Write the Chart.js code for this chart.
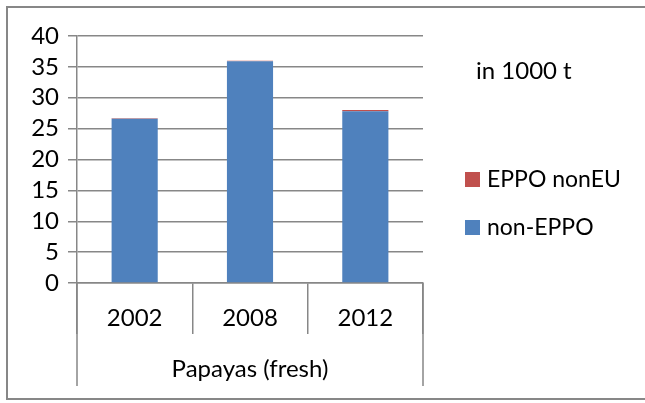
<!DOCTYPE html>
<html>
<head>
<meta charset="utf-8">
<script src="https://cdn.jsdelivr.net/npm/chart.js@4/dist/chart.umd.min.js"></script>
<style>
  html, body { margin: 0; padding: 0; background: #fff; }
  #wrap { width: 645px; height: 403px; }
</style>
</head>
<body>
<div id="wrap"><canvas id="papayaChart" width="645" height="403"></canvas></div>
<script>
// data (1000 t)
const years = ['2002', '2008', '2012'];
const groupLabel = 'Papayas (fresh)';
const nonEppo = [26.6, 35.9, 27.8];
const eppoNonEU = [0.1, 0.1, 0.2];
const unitText = 'in 1000 t';

const FONT = 'Lato, "Open Sans", sans-serif';
const GRID = '#878787';

// extra drawing: frame, group row, unit text, legend
const extras = {
  id: 'extras',
  afterDraw(chart) {
    const ctx = chart.ctx;
    const area = chart.chartArea;
    ctx.save();
    // outer frame
    ctx.strokeStyle = GRID;
    ctx.lineWidth = 2;
    ctx.strokeRect(7, 7, 650, 392);

    // group bracket lines at both ends of the category axis
    ctx.lineWidth = 1.5;
    ctx.beginPath();
    ctx.moveTo(area.left, area.bottom);
    ctx.lineTo(area.left, 386);
    ctx.moveTo(area.right, area.bottom);
    ctx.lineTo(area.right, 386);
    ctx.stroke();

    ctx.fillStyle = '#000';
    ctx.font = '24px ' + FONT;
    ctx.textBaseline = 'middle';
    ctx.textAlign = 'center';
    ctx.fillText(groupLabel, (area.left + area.right) / 2, 369);

    ctx.textAlign = 'left';
    ctx.fillText(unitText, 476, 71);

    // legend, top entry is the top of the stack
    ctx.font = '23px ' + FONT;
    const items = chart.data.datasets.slice().reverse();
    items.forEach((ds, i) => {
      const y = 179 + i * 48;
      ctx.fillStyle = ds.backgroundColor;
      ctx.fillRect(465, y - 7, 15, 15);
      ctx.fillStyle = '#000';
      ctx.fillText(ds.label, 487, y + 1);
    });
    ctx.restore();
  }
};

new Chart(document.getElementById('papayaChart'), {
  type: 'bar',
  data: {
    labels: years,
    datasets: [
      { label: 'non-EPPO', data: nonEppo, backgroundColor: '#4f81bd' },
      { label: 'EPPO nonEU', data: eppoNonEU, backgroundColor: '#c0504d' }
    ]
  },
  options: {
    responsive: false,
    animation: false,
    devicePixelRatio: 1,
    layout: { padding: { left: 0, top: 36, right: 222, bottom: 0 } },
    datasets: { bar: { barPercentage: 0.4, categoryPercentage: 1 } },
    plugins: { legend: { display: false }, tooltip: { enabled: false } },
    scales: {
      x: {
        stacked: true,
        afterFit(scale) { scale.height = 120; },
        grid: {
          offset: true,
          drawOnChartArea: false,
          tickLength: 51,
          color: GRID,
          lineWidth: 1.5
        },
        border: { color: GRID, width: 1.5 },
        ticks: { color: '#000', padding: -30, font: { family: FONT, size: 24 } }
      },
      y: {
        stacked: true,
        min: 0,
        max: 40,
        afterFit(scale) { scale.width = 77; },
        grid: { color: GRID, lineWidth: 1.5, tickLength: 9 },
        border: { color: GRID, width: 1.5 },
        ticks: {
          stepSize: 5,
          autoSkip: false,
          color: '#000',
          padding: 9,
          font: { family: FONT, size: 24, lineHeight: 1 }
        }
      }
    }
  },
  plugins: [extras]
});
</script>
</body>
</html>
